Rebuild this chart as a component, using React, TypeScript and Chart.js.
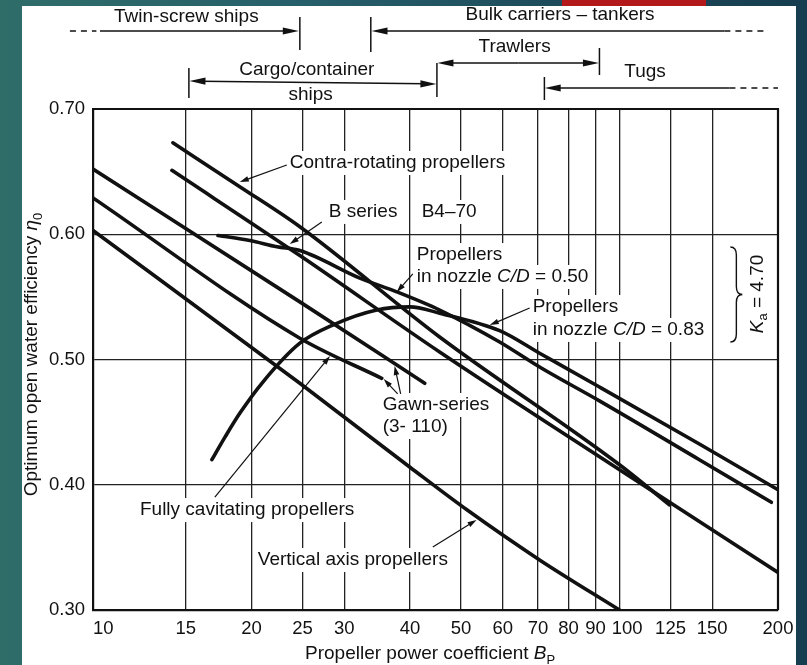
import React, { useEffect, useRef } from 'react';
import { Chart, registerables } from 'chart.js';
Chart.register(...registerables);

const FAMILY = '"Liberation Sans", Arial, Helvetica, sans-serif';
const FS = 19;

// ---- axis ticks ----
const xTickValues = [10, 15, 20, 25, 30, 40, 50, 60, 70, 80, 90, 100, 125, 150, 200];
const xTickLabels = ['10', '15', '20', '25', '30', '40', '50', '60', '70', '80', '90', '100', '125', '150', '200'];
const yTickValues = [0.3, 0.4, 0.5, 0.6, 0.7];

// ---- curves (Bp, eta0) ----
const contraBp = [14.18, 19.0, 24.71, 45.54, 100, 124.4];
const contraEta = [0.673, 0.638, 0.606, 0.518, 0.416, 0.384];
const bSeriesBp = [14.12, 24.71, 45.54, 100, 200];
const bSeriesEta = [0.651, 0.583, 0.506, 0.412, 0.33];
const nozzle050Bp = [17.27, 19.86, 22.35, 24.71, 32.12, 37.75, 45.54, 59.2, 70.5, 91.6, 141.8, 194.3];
const nozzle050Eta = [0.599, 0.595, 0.59, 0.587, 0.565, 0.554, 0.5395, 0.514, 0.494, 0.467, 0.42, 0.386];
const nozzle083Bp = [16.82, 17.81, 19.0, 21.02, 24.71, 28.54, 34.59, 39.96, 45.54, 59.2, 70.5, 91.6, 141.8, 200];
const nozzle083Eta = [0.42, 0.438, 0.457, 0.482, 0.513, 0.5275, 0.5395, 0.542, 0.537, 0.523, 0.505, 0.478, 0.4325, 0.396];
const gawnUpperBp = [10, 24.71, 42.66];
const gawnUpperEta = [0.652, 0.546, 0.481];
const gawnLowerBp = [10, 24.71, 35.35];
const gawnLowerEta = [0.629, 0.517, 0.485];
const verticalAxisBp = [10, 24.71, 40, 51.3, 70.5, 100];
const verticalAxisEta = [0.603, 0.481, 0.414, 0.38, 0.34, 0.3];

type Part = { t: string; i?: boolean; sub?: boolean };

// ---- callout labels (left edge at bp, vertical centre at eta) ----
const calloutLabels: { parts: Part[]; bp: number; eta: number }[] = [
  { parts: [{ t: 'Contra-rotating propellers' }], bp: 23.65, eta: 0.6569 },
  { parts: [{ t: 'B series' }], bp: 28.04, eta: 0.6178 },
  { parts: [{ t: 'B4\u201370' }], bp: 42.1, eta: 0.6178 },
  { parts: [{ t: 'Propellers' }], bp: 41.2, eta: 0.5834 },
  { parts: [{ t: 'in nozzle ' }, { t: 'C/D', i: true }, { t: ' = 0.50' }], bp: 41.2, eta: 0.5659 },
  { parts: [{ t: 'Propellers' }], bp: 68.4, eta: 0.5419 },
  { parts: [{ t: 'in nozzle ' }, { t: 'C/D', i: true }, { t: ' = 0.83' }], bp: 68.4, eta: 0.5236 },
  { parts: [{ t: 'Gawn-series' }], bp: 35.5, eta: 0.4637 },
  { parts: [{ t: '(3- 110)' }], bp: 35.5, eta: 0.4461 },
  { parts: [{ t: 'Fully cavitating propellers' }], bp: 12.28, eta: 0.3798 },
  { parts: [{ t: 'Vertical axis propellers' }], bp: 20.56, eta: 0.3399 },
];

// ---- callout arrows [bp, eta] from -> to ----
const calloutArrows: { from: [number, number]; to: [number, number] }[] = [
  { from: [23.34, 0.6553], to: [19.0, 0.6417] },
  { from: [27.2, 0.6098], to: [23.65, 0.5922] },
  { from: [40.5, 0.5683], to: [37.75, 0.5539] },
  { from: [67.5, 0.5411], to: [56.7, 0.5275] },
  { from: [37.9, 0.4725], to: [35.66, 0.4844] },
  { from: [38.4, 0.4725], to: [37.4, 0.4948] },
  { from: [17.04, 0.3902], to: [28.2, 0.5028] },
  { from: [44.2, 0.3503], to: [53.5, 0.3719] },
];

// ---- ship-type ranges above the plot (bp along x, pixel rows) ----
const topTicks = [
  { bp: 24.71, y1: 17, y2: 50 },
  { bp: 33.7, y1: 17, y2: 52 },
  { bp: 15.21, y1: 68, y2: 98 },
  { bp: 45.0, y1: 63, y2: 97 },
  { bp: 91.6, y1: 48, y2: 75 },
  { bp: 72.0, y1: 77, y2: 100 },
];
const topSpans = [
  { from: 10.31, to: 24.6, y1: 31, y2: 31, headFrom: false, headTo: true },
  { from: 158.2, to: 33.8, y1: 31, y2: 31, headFrom: false, headTo: true },
  { from: 15.25, to: 44.9, y1: 81, y2: 84, headFrom: true, headTo: true },
  { from: 45.1, to: 91.4, y1: 63, y2: 63, headFrom: true, headTo: true },
  { from: 161.7, to: 72.1, y1: 88, y2: 88, headFrom: false, headTo: true },
];
const topDashes = [
  { from: 9.04, to: 10.15, y: 31 },
  { from: 158.2, to: 190.9, y: 31 },
  { from: 161.7, to: 200, y: 88 },
];
const topLabels = [
  { text: 'Twin-screw ships', bp: 15.04, y: 17 },
  { text: 'Bulk carriers \u2013 tankers', bp: 77.1, y: 15 },
  { text: 'Cargo/container', bp: 25.47, y: 70 },
  { text: 'ships', bp: 25.9, y: 95 },
  { text: 'Trawlers', bp: 63.2, y: 47 },
  { text: 'Tugs', bp: 111.8, y: 72 },
];

// K_a bracket
const kaBracket = { bp: 166.7, etaTop: 0.5898, etaBottom: 0.514 };
const kaLabel = { bp: 182.8, eta: 0.5523 };

function fontFor(p: Part, size: number) {
  const s = p.sub ? Math.round(size * 0.68) : size;
  return `${p.i ? 'italic ' : ''}${s}px ${FAMILY}`;
}
function measureParts(ctx: CanvasRenderingContext2D, parts: Part[], size: number) {
  let w = 0;
  for (const p of parts) {
    ctx.font = fontFor(p, size);
    w += ctx.measureText(p.t).width;
  }
  return w;
}
function drawParts(ctx: CanvasRenderingContext2D, parts: Part[], x: number, y: number, size: number) {
  ctx.textBaseline = 'middle';
  ctx.textAlign = 'left';
  let cx = x;
  for (const p of parts) {
    ctx.font = fontFor(p, size);
    ctx.fillText(p.t, cx, p.sub ? y + size * 0.32 : y);
    cx += ctx.measureText(p.t).width;
  }
}
function arrow(ctx: CanvasRenderingContext2D, x1: number, y1: number, x2: number, y2: number, len: number, hw: number) {
  const a = Math.atan2(y2 - y1, x2 - x1);
  const c = Math.cos(a), s = Math.sin(a);
  ctx.beginPath();
  ctx.moveTo(x1, y1);
  ctx.lineTo(x2 - c * len * 0.7, y2 - s * len * 0.7);
  ctx.stroke();
  ctx.beginPath();
  ctx.moveTo(x2, y2);
  ctx.lineTo(x2 - len * c + hw * s, y2 - len * s - hw * c);
  ctx.lineTo(x2 - len * c - hw * s, y2 - len * s + hw * c);
  ctx.closePath();
  ctx.fill();
}

const annotationPlugin = {
  id: 'annotations',
  beforeDatasetsDraw(chart: any) {
    const ctx: CanvasRenderingContext2D = chart.ctx;
    const xs = chart.scales.x, ys = chart.scales.y;
    ctx.save();
    ctx.fillStyle = '#ffffff';
    for (const lab of calloutLabels) {
      const x = xs.getPixelForValue(lab.bp);
      const y = ys.getPixelForValue(lab.eta);
      const w = measureParts(ctx, lab.parts, FS);
      ctx.fillRect(x - 3, y - 12, w + 6, 24);
    }
    ctx.restore();
  },
  afterDatasetsDraw(chart: any) {
    const ctx: CanvasRenderingContext2D = chart.ctx;
    const xs = chart.scales.x, ys = chart.scales.y;
    const { left, top, right, bottom } = chart.chartArea;
    ctx.save();
    ctx.strokeStyle = '#111';
    ctx.fillStyle = '#111';
    // top / right border
    ctx.lineWidth = 2.2;
    ctx.beginPath();
    ctx.moveTo(left, top);
    ctx.lineTo(right, top);
    ctx.lineTo(right, bottom);
    ctx.stroke();

    // callout text
    for (const lab of calloutLabels) {
      drawParts(ctx, lab.parts, xs.getPixelForValue(lab.bp), ys.getPixelForValue(lab.eta), FS);
    }
    // callout arrows
    ctx.lineWidth = 1.2;
    for (const a of calloutArrows) {
      arrow(ctx, xs.getPixelForValue(a.from[0]), ys.getPixelForValue(a.from[1]),
        xs.getPixelForValue(a.to[0]), ys.getPixelForValue(a.to[1]), 9, 2.8);
    }

    // ship-type ranges
    ctx.lineWidth = 1.5;
    for (const t of topTicks) {
      const x = xs.getPixelForValue(t.bp);
      ctx.beginPath(); ctx.moveTo(x, t.y1); ctx.lineTo(x, t.y2); ctx.stroke();
    }
    for (const sp of topSpans) {
      const x1 = xs.getPixelForValue(sp.from), x2 = xs.getPixelForValue(sp.to);
      if (sp.headFrom) {
        const xm = (x1 + x2) / 2, ym = (sp.y1 + sp.y2) / 2;
        arrow(ctx, xm, ym, x1, sp.y1, 16, 3.6);
        arrow(ctx, xm, ym, x2, sp.y2, 16, 3.6);
      } else {
        arrow(ctx, x1, sp.y1, x2, sp.y2, 16, 3.6);
      }
    }
    ctx.setLineDash([6, 5]);
    for (const d of topDashes) {
      ctx.beginPath();
      ctx.moveTo(xs.getPixelForValue(d.from), d.y);
      ctx.lineTo(xs.getPixelForValue(d.to), d.y);
      ctx.stroke();
    }
    ctx.setLineDash([]);
    ctx.textAlign = 'center';
    ctx.textBaseline = 'middle';
    ctx.font = `${FS}px ${FAMILY}`;
    for (const l of topLabels) {
      ctx.fillText(l.text, xs.getPixelForValue(l.bp), l.y);
    }

    // K_a bracket
    const bx = xs.getPixelForValue(kaBracket.bp);
    const by1 = ys.getPixelForValue(kaBracket.etaTop);
    const by2 = ys.getPixelForValue(kaBracket.etaBottom);
    const bm = (by1 + by2) / 2;
    ctx.lineWidth = 1.4;
    ctx.beginPath();
    ctx.moveTo(bx - 6, by1);
    ctx.quadraticCurveTo(bx, by1, bx, by1 + 8);
    ctx.lineTo(bx, bm - 8);
    ctx.quadraticCurveTo(bx, bm, bx + 6, bm);
    ctx.quadraticCurveTo(bx, bm, bx, bm + 8);
    ctx.lineTo(bx, by2 - 8);
    ctx.quadraticCurveTo(bx, by2, bx - 6, by2);
    ctx.stroke();
    const kaParts: Part[] = [{ t: 'K', i: true }, { t: 'a', sub: true }, { t: ' = 4.70' }];
    ctx.save();
    ctx.translate(xs.getPixelForValue(kaLabel.bp), ys.getPixelForValue(kaLabel.eta));
    ctx.rotate(-Math.PI / 2);
    const kw = measureParts(ctx, kaParts, FS);
    drawParts(ctx, kaParts, -kw / 2, 0, FS);
    ctx.restore();

    // axis titles
    const yParts: Part[] = [{ t: 'Optimum open water efficiency ' }, { t: '\u03b7', i: true }, { t: '0', sub: true }];
    ctx.save();
    ctx.translate(32, (top + bottom) / 2 - 5);
    ctx.rotate(-Math.PI / 2);
    const yw = measureParts(ctx, yParts, FS);
    drawParts(ctx, yParts, -yw / 2, 0, FS);
    ctx.restore();
    const xParts: Part[] = [{ t: 'Propeller power coefficient ' }, { t: 'B', i: true }, { t: 'P', sub: true }];
    drawParts(ctx, xParts, 305, 654, FS);
    ctx.restore();
  },
};

export default function App() {
  const ref = useRef<HTMLCanvasElement>(null);
  useEffect(() => {
    const canvas = ref.current!;
    const mk = (bp: number[], eta: number[]) => bp.map((x, i) => ({ x, y: eta[i] }));
    const series: [number[], number[]][] = [
      [contraBp, contraEta],
      [bSeriesBp, bSeriesEta],
      [nozzle050Bp, nozzle050Eta],
      [nozzle083Bp, nozzle083Eta],
      [gawnUpperBp, gawnUpperEta],
      [gawnLowerBp, gawnLowerEta],
      [verticalAxisBp, verticalAxisEta],
    ];
    const tickFont = { family: FAMILY, size: 18.5 };
    const chart = new Chart(canvas, {
      type: 'scatter',
      data: {
        datasets: series.map(([b, e]) => ({
          data: mk(b, e),
          showLine: true,
          borderColor: '#111',
          backgroundColor: '#111',
          borderWidth: 3.6,
          pointRadius: 0,
          cubicInterpolationMode: 'monotone' as const,
          fill: false,
          borderCapStyle: 'round' as const,
        })),
      },
      options: {
        animation: false,
        responsive: false,
        devicePixelRatio: 1,
        events: [],
        layout: { padding: { left: 0, top: 109, right: 29, bottom: 0 } },
        plugins: { legend: { display: false }, tooltip: { enabled: false } },
        scales: {
          x: {
            type: 'logarithmic',
            min: 10,
            max: 200,
            afterBuildTicks: (s: any) => { s.ticks = xTickValues.map((v) => ({ value: v })); },
            afterFit: (s: any) => { s.height = 55; },
            ticks: {
              autoSkip: false,
              maxRotation: 0,
              minRotation: 0,
              padding: 8,
              color: '#111',
              font: tickFont,
              callback: (_v: any, i: number) => {
                const lab = xTickLabels[i];
                const shift = lab === '10' ? '    ' : lab === '100' ? '   ' : '';
                return shift + lab;
              },
            },
            grid: { color: '#222', lineWidth: 1.3, drawTicks: false },
            border: { display: true, color: '#111', width: 2.2 },
          },
          y: {
            type: 'linear',
            min: 0.3,
            max: 0.7,
            afterBuildTicks: (s: any) => { s.ticks = yTickValues.map((v) => ({ value: v })); },
            afterFit: (s: any) => { s.width = 93; },
            ticks: {
              padding: 8,
              color: '#111',
              font: tickFont,
              callback: (v: any) => Number(v).toFixed(2),
            },
            grid: { color: '#222', lineWidth: 1.3, drawTicks: false },
            border: { display: true, color: '#111', width: 2.2 },
          },
        },
      },
      plugins: [annotationPlugin],
    } as any);
    return () => chart.destroy();
  }, []);

  return (
    <div
      style={{
        position: 'fixed',
        left: 0,
        top: 0,
        width: 807,
        height: 665,
        overflow: 'hidden',
        background: 'linear-gradient(90deg, #2f6d69 0%, #27606a 35%, #1d4b5c 70%, #163d50 100%)',
      }}
    >
      <div style={{ position: 'absolute', left: 22, top: 6, width: 774, height: 659, background: '#ffffff' }} />
      <div style={{ position: 'absolute', left: 562, top: 0, width: 144, height: 6, background: '#b3191b' }} />
      <canvas ref={ref} width={807} height={665} style={{ position: 'absolute', left: 0, top: 0 }} />
    </div>
  );
}
